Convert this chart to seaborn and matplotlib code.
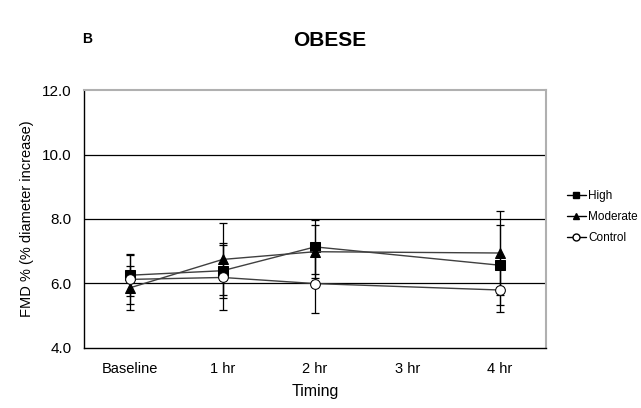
import matplotlib
matplotlib.use("Agg")
import matplotlib.pyplot as plt
import seaborn as sns
import pandas as pd
import numpy as np
from matplotlib.lines import Line2D

# categories on the x axis (3 hr has no measurement)
timing_labels = ["Baseline", "1 hr", "2 hr", "3 hr", "4 hr"]
timing_pos = [0, 1, 2, 4]

high_mean = [6.25, 6.39, 7.13, 6.56]
high_se = [0.65, 0.85, 0.85, 1.24]
moderate_mean = [5.86, 6.74, 6.98, 6.94]
moderate_se = [0.68, 1.12, 0.83, 1.31]
control_mean = [6.12, 6.18, 5.99, 5.79]
control_se = [0.75, 1.0, 0.9, 0.68]

df = pd.concat([
    pd.DataFrame({"Timing": timing_pos, "FMD": high_mean, "se": high_se, "Group": "High"}),
    pd.DataFrame({"Timing": timing_pos, "FMD": moderate_mean, "se": moderate_se, "Group": "Moderate"}),
    pd.DataFrame({"Timing": timing_pos, "FMD": control_mean, "se": control_se, "Group": "Control"}),
])

sns.set_style("white")
plt.rcParams["font.family"] = ["Liberation Sans", "DejaVu Sans"]
plt.rcParams.update({"text.color": "black", "axes.labelcolor": "black",
                     "xtick.color": "black", "ytick.color": "black"})

fig = plt.figure(figsize=(6.41, 4.08), dpi=100)
ax = fig.add_axes([0.131, 0.148, 0.721, 0.631])

face = {"High": "black", "Moderate": "black", "Control": "white"}

# error bars first, then the lines with markers on top
for grp, sub in df.groupby("Group", sort=False):
    ax.errorbar(sub["Timing"], sub["FMD"], yerr=sub["se"], fmt="none",
                ecolor="black", elinewidth=0.9, capsize=3, capthick=0.9, zorder=2)

sns.lineplot(data=df, x="Timing", y="FMD", hue="Group", style="Group",
             palette=["#404040"] * 3, markers=["s", "^", "o"], dashes=False,
             linewidth=1.0, markersize=7, markeredgecolor="black",
             ax=ax, zorder=3, legend=False)

for line, grp in zip(ax.lines[-3:], ["High", "Moderate", "Control"]):
    line.set_markerfacecolor(face[grp])
    line.set_markeredgecolor("black")

ax.set_xlim(-0.5, 4.5)
ax.set_ylim(4.0, 12.0)
ax.set_yticks([4, 6, 8, 10, 12])
ax.set_yticklabels(["4.0", "6.0", "8.0", "10.0", "12.0"], fontsize=11)
ax.set_xticks(np.arange(-0.5, 5.0, 1.0))
ax.set_xticklabels([])
ax.set_xticks(range(len(timing_labels)), minor=True)
ax.set_xticklabels(timing_labels, minor=True, fontsize=10.5)
ax.tick_params(axis="x", which="major", direction="out", length=5, width=0.8)
ax.tick_params(axis="x", which="minor", length=0, pad=10)
ax.tick_params(axis="y", direction="out", length=5, width=0.8, pad=4)

for y in [6, 8, 10]:
    ax.axhline(y, color="black", linewidth=0.9, zorder=1)

for side in ["left", "bottom"]:
    ax.spines[side].set_color("black")
    ax.spines[side].set_linewidth(1.0)
for side in ["top", "right"]:
    ax.spines[side].set_color("#b0b0b0")
    ax.spines[side].set_linewidth(1.5)

ax.set_xlabel("Timing", fontsize=11.5, labelpad=6)
ax.set_ylabel("FMD % (% diameter increase)", fontsize=10.5, labelpad=6)

handles = [
    Line2D([], [], color="black", marker="s", mfc="black", mec="black", markersize=5, linewidth=1),
    Line2D([], [], color="black", marker="^", mfc="black", mec="black", markersize=5, linewidth=1),
    Line2D([], [], color="black", marker="o", mfc="white", mec="black", markersize=5, linewidth=1),
]
fig.legend(handles, ["High", "Moderate", "Control"], loc="upper left",
           bbox_to_anchor=(0.868, 0.56), frameon=False, fontsize=8.5,
           handlelength=1.6, handletextpad=0.2, labelspacing=0.75)

fig.text(0.515, 0.9, "OBESE", fontsize=15, fontweight="bold", ha="center", va="center")
fig.text(0.136, 0.905, "B", fontsize=10, fontweight="bold", ha="center", va="center")

fig.savefig("out.png", dpi=100, facecolor="white")
